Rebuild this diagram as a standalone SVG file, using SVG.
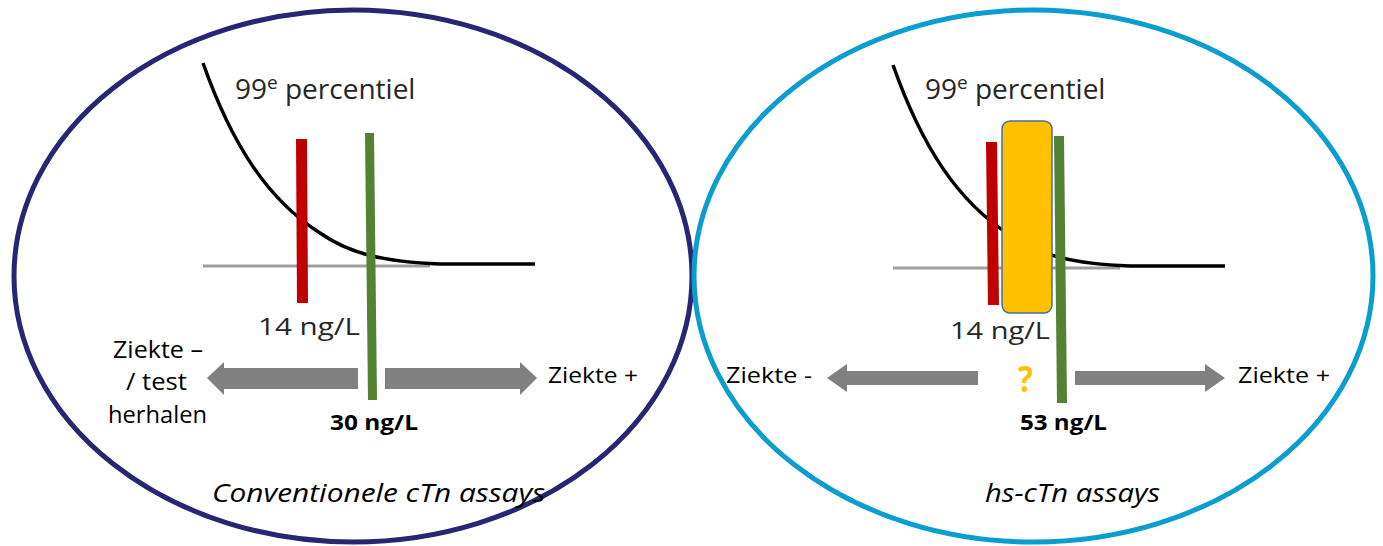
<svg xmlns="http://www.w3.org/2000/svg" width="1383" height="546" viewBox="0 0 1383 546">
  <style>
    .frame { fill: none; stroke-width: 5; }
    .curve { fill: none; stroke: #000; stroke-width: 3.5; }
    .base { fill: none; stroke: #9e9e9e; stroke-width: 3; }
    .red { fill: #c00000; }
    .green { fill: #548235; }
    .arrow { fill: #808080; }
    .t { font-family: "Open Sans", "Liberation Sans", sans-serif; fill: #000; }
    .dark { fill: #262626; }
    .b { font-weight: bold; }
    .i { font-style: italic; }
  </style>
  <defs>
    <!-- density curve with its baseline, reused in both panels -->
    <g id="curveShape">
      <path class="base" d="M203,266 L430,266"/>
      <path class="curve" d="M203,63 C232,145 268,200 320,233 C350,254 385,262 440,264 L535,264"/>
    </g>
  </defs>
  <rect width="1383" height="546" fill="#fff"/>

  <!-- left panel: conventional assays -->
  <g id="panel-conventional">
    <ellipse class="frame" cx="353" cy="276" rx="339" ry="266" stroke="#262673"/>
    <use href="#curveShape"/>
    <polygon class="red" points="296,139 307,139 308,303 297,303"/>
    <polygon class="green" points="365,133 374,133 377,400 368,400"/>
    <text class="t dark" x="235" y="99" font-size="28">99<tspan font-size="19" dy="-10">e</tspan><tspan dy="10"> percentiel</tspan></text>
    <text class="t dark" x="258" y="335" font-size="23" textLength="102" lengthAdjust="spacingAndGlyphs">14 ng/L</text>
    <text class="t" x="113" y="358" font-size="23" textLength="90" lengthAdjust="spacingAndGlyphs">Ziekte –</text>
    <text class="t" x="126" y="390" font-size="23" textLength="61" lengthAdjust="spacingAndGlyphs">/ test</text>
    <text class="t" x="108" y="423" font-size="23" textLength="99" lengthAdjust="spacingAndGlyphs">herhalen</text>
    <text class="t b" x="330" y="430" font-size="21" textLength="88" lengthAdjust="spacingAndGlyphs">30 ng/L</text>
    <text class="t" x="548" y="383" font-size="22" textLength="90" lengthAdjust="spacingAndGlyphs">Ziekte +</text>
    <text class="t i" x="212" y="502" font-size="25" textLength="333" lengthAdjust="spacingAndGlyphs">Conventionele cTn assays</text>
  </g>

  <!-- right panel: high-sensitivity assays -->
  <g id="panel-hs">
    <ellipse class="frame" cx="1033.5" cy="276" rx="339.5" ry="266" stroke="#0a9dd0"/>
    <use href="#curveShape" transform="translate(690,2)"/>
    <polygon class="red" points="986,142 997,142 999,305 988,305"/>
    <rect x="1002" y="121" width="50" height="192" rx="8" fill="#ffc000" stroke="#41719c" stroke-width="1.5"/>
    <polygon class="green" points="1054,136 1064,136 1067,403 1057,403"/>
    <text class="t dark" x="925" y="99" font-size="28">99<tspan font-size="19" dy="-10">e</tspan><tspan dy="10"> percentiel</tspan></text>
    <text class="t dark" x="950" y="339" font-size="23" textLength="100" lengthAdjust="spacingAndGlyphs">14 ng/L</text>
    <text class="t b" x="1018" y="392" font-size="35" textLength="15" lengthAdjust="spacingAndGlyphs" style="fill:#ffc000">?</text>
    <text class="t" x="726" y="383" font-size="22" textLength="86" lengthAdjust="spacingAndGlyphs">Ziekte -</text>
    <text class="t b" x="1020" y="430" font-size="21" textLength="87" lengthAdjust="spacingAndGlyphs">53 ng/L</text>
    <text class="t" x="1238" y="383" font-size="22" textLength="92" lengthAdjust="spacingAndGlyphs">Ziekte +</text>
    <text class="t i" x="985" y="502" font-size="25" textLength="175" lengthAdjust="spacingAndGlyphs">hs-cTn assays</text>
  </g>

  <!-- direction arrows -->
  <g id="connectors">
    <polygon class="arrow" points="207,378 224,362 224,368 358,368 358,389 224,389 224,395"/>
    <polygon class="arrow" points="385,368 520,368 520,362 537,378 520,395 520,389 385,389"/>
    <polygon class="arrow" points="827,378 847,364 847,371 978,371 978,385 847,385 847,392"/>
    <polygon class="arrow" points="1075,371 1205,371 1205,364 1225,378 1205,392 1205,385 1075,385"/>
  </g>
</svg>
